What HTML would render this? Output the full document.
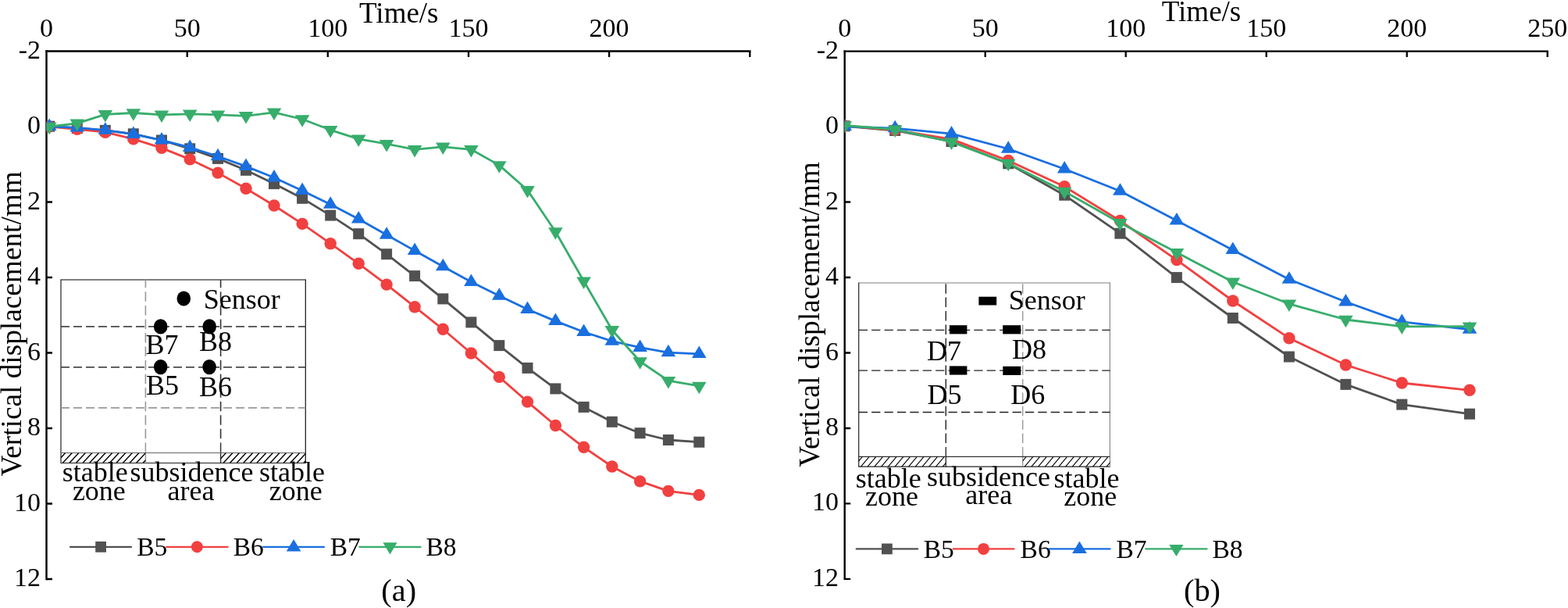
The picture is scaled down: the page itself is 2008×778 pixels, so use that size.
<!DOCTYPE html>
<html><head><meta charset="utf-8"><title>Vertical displacement vs time</title>
<style>html,body{margin:0;padding:0;background:#fff;width:2008px;height:778px;overflow:hidden}svg{display:block}</style>
</head><body>
<svg width="2008" height="778" viewBox="0 0 2008 778" font-family="&apos;Liberation Serif&apos;, &apos;Times New Roman&apos;, serif">
<rect width="2008" height="778" fill="#fff"/>
<defs><clipPath id="clipL"><rect x="59.5" y="0" width="920" height="760"/></clipPath><clipPath id="clipR"><rect x="1081.7" y="0" width="920" height="760"/></clipPath><clipPath id="hL1"><rect x="78" y="579.5" width="108.4" height="13"/></clipPath><clipPath id="hL2"><rect x="282.6" y="579.5" width="108.7" height="13"/></clipPath><clipPath id="hR1"><rect x="1099.7" y="584.4" width="111.6" height="12.8"/></clipPath><clipPath id="hR2"><rect x="1309.7" y="584.4" width="111.7" height="12.8"/></clipPath></defs>
<path d="M59.5,65.5 H960.3" stroke="#000" stroke-width="2.4" fill="none" stroke-linecap="square"/>
<path d="M59.5,65.5 V741" stroke="#000" stroke-width="2.4" fill="none" stroke-linecap="square"/>
<path d="M239.7,65.5 V73 M419.8,65.5 V73 M600,65.5 V73 M780.1,65.5 V73 M960.3,65.5 V73 M59.5,162 H67 M59.5,258.5 H67 M59.5,355 H67 M59.5,451.5 H67 M59.5,548 H67 M59.5,644.5 H67 M59.5,741 H67 " stroke="#000" stroke-width="2.3" fill="none"/>
<text x="59.5" y="47" text-anchor="middle" font-size="34">0</text>
<text x="239.7" y="47" text-anchor="middle" font-size="34">50</text>
<text x="419.8" y="47" text-anchor="middle" font-size="34">100</text>
<text x="600" y="47" text-anchor="middle" font-size="34">150</text>
<text x="780.1" y="47" text-anchor="middle" font-size="34">200</text>
<text x="52" y="74.5" text-anchor="end" font-size="34">-2</text>
<text x="52" y="171" text-anchor="end" font-size="34">0</text>
<text x="52" y="267.5" text-anchor="end" font-size="34">2</text>
<text x="52" y="364" text-anchor="end" font-size="34">4</text>
<text x="52" y="460.5" text-anchor="end" font-size="34">6</text>
<text x="52" y="557" text-anchor="end" font-size="34">8</text>
<text x="52" y="653.5" text-anchor="end" font-size="34">10</text>
<text x="52" y="750" text-anchor="end" font-size="34">12</text>
<text x="510.8" y="29" text-anchor="middle" font-size="37">Time/s</text>
<text transform="translate(27,414.4) rotate(-90)" text-anchor="middle" font-size="37.3">Vertical displacement/mm</text>
<text x="510.7" y="769" text-anchor="middle" font-size="40.3">(a)</text>
<path d="M78,358 H391.3" stroke="#555" stroke-width="1.3"/>
<path d="M78,592.5 H391.3" stroke="#555" stroke-width="1.3"/>
<path d="M78,357.4 V593.1" stroke="#333" stroke-width="1.3"/>
<path d="M391.3,357.4 V593.1" stroke="#222" stroke-width="1.3"/>
<path d="M78,417.9 H391.3 M78,469.8 H391.3" stroke="#4a4a4a" stroke-width="1.7" stroke-dasharray="11 5" fill="none"/>
<path d="M78,521.8 H391.3" stroke="#999" stroke-width="1.7" stroke-dasharray="11 5" fill="none"/>
<path d="M186.4,561.35 V358" stroke="#999" stroke-width="1.6" stroke-dasharray="12.5 5.05" fill="none"/>
<path d="M282.6,561.35 V358" stroke="#333" stroke-width="1.6" stroke-dasharray="12.5 5.05" fill="none"/>
<path d="M186.4,566.4 V592.5" stroke="#999" stroke-width="1.5"/>
<path d="M282.6,566.4 V592.5" stroke="#333" stroke-width="1.5"/>
<path d="M78,579.5 H391.3" stroke="#666" stroke-width="1.2"/>
<path d="M71.6,592.5 L83.7,579.5 M80.2,592.5 L92.3,579.5 M88.8,592.5 L100.9,579.5 M97.3,592.5 L109.4,579.5 M105.9,592.5 L118,579.5 M114.5,592.5 L126.6,579.5 M123,592.5 L135.1,579.5 M131.6,592.5 L143.7,579.5 M140.2,592.5 L152.3,579.5 M148.8,592.5 L160.8,579.5 M157.3,592.5 L169.4,579.5 M165.9,592.5 L178,579.5 M174.5,592.5 L186.6,579.5 M183,592.5 L195.1,579.5 " stroke="#000" stroke-width="1.4" clip-path="url(#hL1)"/>
<path d="M277.3,592.5 L289.4,579.5 M285.9,592.5 L298,579.5 M294.4,592.5 L306.5,579.5 M303,592.5 L315.1,579.5 M311.6,592.5 L323.7,579.5 M320.2,592.5 L332.2,579.5 M328.7,592.5 L340.8,579.5 M337.3,592.5 L349.4,579.5 M345.9,592.5 L358,579.5 M354.4,592.5 L366.5,579.5 M363,592.5 L375.1,579.5 M371.6,592.5 L383.7,579.5 M380.1,592.5 L392.2,579.5 M388.7,592.5 L400.8,579.5 " stroke="#000" stroke-width="1.4" clip-path="url(#hL2)"/>
<ellipse cx="235.3" cy="382" rx="8.8" ry="9.6" fill="#000"/>
<ellipse cx="205.7" cy="417.9" rx="8.8" ry="9.6" fill="#000"/>
<ellipse cx="268.2" cy="417.9" rx="8.8" ry="9.6" fill="#000"/>
<ellipse cx="205.7" cy="469.6" rx="8.8" ry="9.6" fill="#000"/>
<ellipse cx="268.1" cy="469.6" rx="8.8" ry="9.6" fill="#000"/>
<text x="260.7" y="395.2" font-size="36">Sensor</text>
<text x="186.6" y="452.6" font-size="36">B7</text>
<text x="254.9" y="449.2" font-size="36">B8</text>
<text x="186.9" y="505.3" font-size="36">B5</text>
<text x="254.9" y="506.6" font-size="36">B6</text>
<text x="79.8" y="616.4" font-size="36">stable</text>
<text x="92.9" y="640" font-size="36">zone</text>
<text x="166.5" y="616.4" font-size="36">subsidence</text>
<text x="214.6" y="640" font-size="36">area</text>
<text x="332.1" y="616.4" font-size="36">stable</text>
<text x="344.7" y="640" font-size="36">zone</text>
<g clip-path="url(#clipL)">
<polyline fill="none" stroke="#515151" stroke-width="2.8" stroke-linejoin="round" stroke-linecap="round" points="63.2,161.7 98.8,164 134.8,166.9 170.8,171.3 207,179.5 243.2,190.3 279,202.9 315,217.8 351,235.1 387.1,253.8 423.2,275.6 459.2,299.2 495.1,325.2 531.1,353.1 567.3,382.4 603.4,412.4 639.3,442.1 675.5,470.9 711.4,497.4 747.6,520.9 783.8,539.8 819.6,554.2 855.9,563 895.3,565.7"/>
<rect x="56.2" y="154.7" width="14" height="14" fill="#515151"/>
<rect x="91.8" y="157" width="14" height="14" fill="#515151"/>
<rect x="127.8" y="159.9" width="14" height="14" fill="#515151"/>
<rect x="163.8" y="164.3" width="14" height="14" fill="#515151"/>
<rect x="200" y="172.5" width="14" height="14" fill="#515151"/>
<rect x="236.2" y="183.3" width="14" height="14" fill="#515151"/>
<rect x="272" y="195.9" width="14" height="14" fill="#515151"/>
<rect x="308" y="210.8" width="14" height="14" fill="#515151"/>
<rect x="344" y="228.1" width="14" height="14" fill="#515151"/>
<rect x="380.1" y="246.8" width="14" height="14" fill="#515151"/>
<rect x="416.2" y="268.6" width="14" height="14" fill="#515151"/>
<rect x="452.2" y="292.2" width="14" height="14" fill="#515151"/>
<rect x="488.1" y="318.2" width="14" height="14" fill="#515151"/>
<rect x="524.1" y="346.1" width="14" height="14" fill="#515151"/>
<rect x="560.3" y="375.4" width="14" height="14" fill="#515151"/>
<rect x="596.4" y="405.4" width="14" height="14" fill="#515151"/>
<rect x="632.3" y="435.1" width="14" height="14" fill="#515151"/>
<rect x="668.5" y="463.9" width="14" height="14" fill="#515151"/>
<rect x="704.4" y="490.4" width="14" height="14" fill="#515151"/>
<rect x="740.6" y="513.9" width="14" height="14" fill="#515151"/>
<rect x="776.8" y="532.8" width="14" height="14" fill="#515151"/>
<rect x="812.6" y="547.2" width="14" height="14" fill="#515151"/>
<rect x="848.9" y="556" width="14" height="14" fill="#515151"/>
<rect x="888.3" y="558.7" width="14" height="14" fill="#515151"/>
<polyline fill="none" stroke="#F14040" stroke-width="2.8" stroke-linejoin="round" stroke-linecap="round" points="63.2,162 98.8,165.3 134.8,169.2 170.8,177.8 207,189.4 243.2,203.9 279,221.1 315,241.2 351,263 387.1,286.4 423.2,311.7 459.2,337.3 495.1,364.1 531.1,392.7 567.3,421.3 603.4,452 639.3,482.4 675.5,514.1 711.4,544.5 747.6,572.3 783.8,597 819.6,615.9 855.9,628.4 895.3,633.4"/>
<circle cx="63.2" cy="162" r="7.7" fill="#F14040"/>
<circle cx="98.8" cy="165.3" r="7.7" fill="#F14040"/>
<circle cx="134.8" cy="169.2" r="7.7" fill="#F14040"/>
<circle cx="170.8" cy="177.8" r="7.7" fill="#F14040"/>
<circle cx="207" cy="189.4" r="7.7" fill="#F14040"/>
<circle cx="243.2" cy="203.9" r="7.7" fill="#F14040"/>
<circle cx="279" cy="221.1" r="7.7" fill="#F14040"/>
<circle cx="315" cy="241.2" r="7.7" fill="#F14040"/>
<circle cx="351" cy="263" r="7.7" fill="#F14040"/>
<circle cx="387.1" cy="286.4" r="7.7" fill="#F14040"/>
<circle cx="423.2" cy="311.7" r="7.7" fill="#F14040"/>
<circle cx="459.2" cy="337.3" r="7.7" fill="#F14040"/>
<circle cx="495.1" cy="364.1" r="7.7" fill="#F14040"/>
<circle cx="531.1" cy="392.7" r="7.7" fill="#F14040"/>
<circle cx="567.3" cy="421.3" r="7.7" fill="#F14040"/>
<circle cx="603.4" cy="452" r="7.7" fill="#F14040"/>
<circle cx="639.3" cy="482.4" r="7.7" fill="#F14040"/>
<circle cx="675.5" cy="514.1" r="7.7" fill="#F14040"/>
<circle cx="711.4" cy="544.5" r="7.7" fill="#F14040"/>
<circle cx="747.6" cy="572.3" r="7.7" fill="#F14040"/>
<circle cx="783.8" cy="597" r="7.7" fill="#F14040"/>
<circle cx="819.6" cy="615.9" r="7.7" fill="#F14040"/>
<circle cx="855.9" cy="628.4" r="7.7" fill="#F14040"/>
<circle cx="895.3" cy="633.4" r="7.7" fill="#F14040"/>
<polyline fill="none" stroke="#1A6FDF" stroke-width="2.8" stroke-linejoin="round" stroke-linecap="round" points="63.2,161.8 98.8,163.3 134.8,166.6 170.8,171.7 207,179.4 243.2,188.7 279,200 315,212.9 351,227.2 387.1,243.9 423.2,261.6 459.2,280.3 495.1,300.5 531.1,320.7 567.3,341 603.4,360.7 639.3,378.6 675.5,395.8 711.4,410.9 747.6,424.8 783.8,436.5 819.6,444.7 855.9,451.1 895.3,452.9"/>
<polygon points="63.2,151.5 53.9,167 72.5,167" fill="#1A6FDF"/>
<polygon points="98.8,153 89.5,168.5 108.1,168.5" fill="#1A6FDF"/>
<polygon points="134.8,156.3 125.5,171.8 144.1,171.8" fill="#1A6FDF"/>
<polygon points="170.8,161.4 161.5,176.9 180.1,176.9" fill="#1A6FDF"/>
<polygon points="207,169.1 197.7,184.6 216.3,184.6" fill="#1A6FDF"/>
<polygon points="243.2,178.4 233.9,193.9 252.5,193.9" fill="#1A6FDF"/>
<polygon points="279,189.7 269.7,205.2 288.3,205.2" fill="#1A6FDF"/>
<polygon points="315,202.6 305.7,218.1 324.3,218.1" fill="#1A6FDF"/>
<polygon points="351,216.9 341.7,232.4 360.3,232.4" fill="#1A6FDF"/>
<polygon points="387.1,233.6 377.8,249.1 396.4,249.1" fill="#1A6FDF"/>
<polygon points="423.2,251.3 413.9,266.8 432.5,266.8" fill="#1A6FDF"/>
<polygon points="459.2,270 449.9,285.5 468.5,285.5" fill="#1A6FDF"/>
<polygon points="495.1,290.2 485.8,305.7 504.4,305.7" fill="#1A6FDF"/>
<polygon points="531.1,310.4 521.8,325.9 540.4,325.9" fill="#1A6FDF"/>
<polygon points="567.3,330.7 558,346.2 576.6,346.2" fill="#1A6FDF"/>
<polygon points="603.4,350.4 594.1,365.9 612.7,365.9" fill="#1A6FDF"/>
<polygon points="639.3,368.3 630,383.8 648.6,383.8" fill="#1A6FDF"/>
<polygon points="675.5,385.5 666.2,401 684.8,401" fill="#1A6FDF"/>
<polygon points="711.4,400.6 702.1,416.1 720.7,416.1" fill="#1A6FDF"/>
<polygon points="747.6,414.5 738.3,430 756.9,430" fill="#1A6FDF"/>
<polygon points="783.8,426.2 774.5,441.7 793.1,441.7" fill="#1A6FDF"/>
<polygon points="819.6,434.4 810.3,449.9 828.9,449.9" fill="#1A6FDF"/>
<polygon points="855.9,440.8 846.6,456.3 865.2,456.3" fill="#1A6FDF"/>
<polygon points="895.3,442.6 886,458.1 904.6,458.1" fill="#1A6FDF"/>
<polyline fill="none" stroke="#37AD6B" stroke-width="2.8" stroke-linejoin="round" stroke-linecap="round" points="63.2,162 98.8,157.8 134.8,146.3 170.8,144.5 207,146.8 243.2,145.8 279,146.8 315,148.3 351,143.8 387.1,152.5 423.2,166.3 459.2,177.8 495.1,184.1 531.1,191.3 567.3,187.8 603.4,191.3 639.3,211.4 675.5,243.2 711.4,296.5 747.6,359.7 783.8,422.2 819.6,462.5 855.9,487.1 895.3,493.9"/>
<polygon points="53.9,156.8 72.5,156.8 63.2,172.3" fill="#37AD6B"/>
<polygon points="89.5,152.6 108.1,152.6 98.8,168.1" fill="#37AD6B"/>
<polygon points="125.5,141.1 144.1,141.1 134.8,156.6" fill="#37AD6B"/>
<polygon points="161.5,139.3 180.1,139.3 170.8,154.8" fill="#37AD6B"/>
<polygon points="197.7,141.6 216.3,141.6 207,157.1" fill="#37AD6B"/>
<polygon points="233.9,140.6 252.5,140.6 243.2,156.1" fill="#37AD6B"/>
<polygon points="269.7,141.6 288.3,141.6 279,157.1" fill="#37AD6B"/>
<polygon points="305.7,143.1 324.3,143.1 315,158.6" fill="#37AD6B"/>
<polygon points="341.7,138.6 360.3,138.6 351,154.1" fill="#37AD6B"/>
<polygon points="377.8,147.3 396.4,147.3 387.1,162.8" fill="#37AD6B"/>
<polygon points="413.9,161.1 432.5,161.1 423.2,176.6" fill="#37AD6B"/>
<polygon points="449.9,172.6 468.5,172.6 459.2,188.1" fill="#37AD6B"/>
<polygon points="485.8,178.9 504.4,178.9 495.1,194.4" fill="#37AD6B"/>
<polygon points="521.8,186.1 540.4,186.1 531.1,201.6" fill="#37AD6B"/>
<polygon points="558,182.6 576.6,182.6 567.3,198.1" fill="#37AD6B"/>
<polygon points="594.1,186.1 612.7,186.1 603.4,201.6" fill="#37AD6B"/>
<polygon points="630,206.2 648.6,206.2 639.3,221.7" fill="#37AD6B"/>
<polygon points="666.2,238 684.8,238 675.5,253.5" fill="#37AD6B"/>
<polygon points="702.1,291.3 720.7,291.3 711.4,306.8" fill="#37AD6B"/>
<polygon points="738.3,354.5 756.9,354.5 747.6,370" fill="#37AD6B"/>
<polygon points="774.5,417 793.1,417 783.8,432.5" fill="#37AD6B"/>
<polygon points="810.3,457.3 828.9,457.3 819.6,472.8" fill="#37AD6B"/>
<polygon points="846.6,481.9 865.2,481.9 855.9,497.4" fill="#37AD6B"/>
<polygon points="886,488.7 904.6,488.7 895.3,504.2" fill="#37AD6B"/>
</g>
<path d="M90,699.8 H168.1" stroke="#515151" stroke-width="2.2" stroke-linecap="round"/>
<rect x="122.2" y="692.9" width="13.8" height="13.8" fill="#515151"/>
<text x="175.2" y="711.1" font-size="33.5">B5</text>
<path d="M213.2,699.8 H291.7" stroke="#F14040" stroke-width="2.2" stroke-linecap="round"/>
<circle cx="252.4" cy="699.8" r="7.5" fill="#F14040"/>
<text x="298.7" y="711.1" font-size="33.5">B6</text>
<path d="M337.1,699.8 H415.1" stroke="#1A6FDF" stroke-width="2.2" stroke-linecap="round"/>
<polygon points="376.1,689.9 366.8,705.5 385.4,705.5" fill="#1A6FDF"/>
<text x="422.7" y="711.1" font-size="33.5">B7</text>
<path d="M460.3,699.8 H538.6" stroke="#37AD6B" stroke-width="2.2" stroke-linecap="round"/>
<polygon points="490.4,694.3 508.6,694.3 499.5,709.4" fill="#37AD6B"/>
<text x="545.4" y="711.1" font-size="33.5">B8</text>
<path d="M1081.7,65.6 H1981.7" stroke="#000" stroke-width="2.4" fill="none" stroke-linecap="square"/>
<path d="M1081.7,65.6 V740.9" stroke="#000" stroke-width="2.4" fill="none" stroke-linecap="square"/>
<path d="M1261.7,65.6 V73.1 M1441.7,65.6 V73.1 M1621.7,65.6 V73.1 M1801.7,65.6 V73.1 M1981.7,65.6 V73.1 M1081.7,162.1 H1089.2 M1081.7,258.5 H1089.2 M1081.7,355 H1089.2 M1081.7,451.5 H1089.2 M1081.7,548 H1089.2 M1081.7,644.4 H1089.2 M1081.7,740.9 H1089.2 " stroke="#000" stroke-width="2.3" fill="none"/>
<text x="1081.7" y="47" text-anchor="middle" font-size="34">0</text>
<text x="1261.7" y="47" text-anchor="middle" font-size="34">50</text>
<text x="1441.7" y="47" text-anchor="middle" font-size="34">100</text>
<text x="1621.7" y="47" text-anchor="middle" font-size="34">150</text>
<text x="1801.7" y="47" text-anchor="middle" font-size="34">200</text>
<text x="1981.7" y="47" text-anchor="middle" font-size="34">250</text>
<text x="1074.1" y="74.6" text-anchor="end" font-size="34">-2</text>
<text x="1074.1" y="171.1" text-anchor="end" font-size="34">0</text>
<text x="1074.1" y="267.5" text-anchor="end" font-size="34">2</text>
<text x="1074.1" y="364" text-anchor="end" font-size="34">4</text>
<text x="1074.1" y="460.5" text-anchor="end" font-size="34">6</text>
<text x="1074.1" y="557" text-anchor="end" font-size="34">8</text>
<text x="1074.1" y="653.4" text-anchor="end" font-size="34">10</text>
<text x="1074.1" y="749.9" text-anchor="end" font-size="34">12</text>
<text x="1538.5" y="27" text-anchor="middle" font-size="37">Time/s</text>
<text transform="translate(1049.4,402.5) rotate(-90)" text-anchor="middle" font-size="37.3">Vertical displacement/mm</text>
<text x="1539.5" y="769.2" text-anchor="middle" font-size="40.3">(b)</text>
<path d="M1099.7,362 H1421.4" stroke="#aaa" stroke-width="1.3"/>
<path d="M1099.7,597.2 H1421.4" stroke="#222" stroke-width="1.2"/>
<path d="M1099.7,361.4 V597.8" stroke="#333" stroke-width="1.3"/>
<path d="M1421.4,361.4 V597.8" stroke="#888" stroke-width="1.2"/>
<path d="M1099.7,422.3 H1421.4 M1099.7,474.1 H1421.4 M1099.7,527.5 H1421.4" stroke="#222" stroke-width="1.3" stroke-dasharray="11.3 5.1" fill="none"/>
<path d="M1211.3,567.1 V362" stroke="#222" stroke-width="1.4" stroke-dasharray="12.5 4.9" fill="none"/>
<path d="M1309.7,567.1 V362" stroke="#999" stroke-width="1.4" stroke-dasharray="12.5 4.9" fill="none"/>
<path d="M1211.3,572 V597.2" stroke="#222" stroke-width="1.3"/>
<path d="M1309.7,572 V597.2" stroke="#999" stroke-width="1.3"/>
<path d="M1099.7,584.4 H1421.4" stroke="#333" stroke-width="1.2"/>
<path d="M1093.7,597.2 L1104.4,584.4 M1102.4,597.2 L1113.2,584.4 M1111.1,597.2 L1121.9,584.4 M1119.9,597.2 L1130.6,584.4 M1128.6,597.2 L1139.4,584.4 M1137.4,597.2 L1148.1,584.4 M1146.1,597.2 L1156.9,584.4 M1154.8,597.2 L1165.6,584.4 M1163.6,597.2 L1174.3,584.4 M1172.3,597.2 L1183.1,584.4 M1181.1,597.2 L1191.8,584.4 M1189.8,597.2 L1200.6,584.4 M1198.5,597.2 L1209.3,584.4 M1207.3,597.2 L1218,584.4 " stroke="#000" stroke-width="1.1" clip-path="url(#hR1)"/>
<path d="M1303.4,597.2 L1314.2,584.4 M1312.2,597.2 L1322.9,584.4 M1320.9,597.2 L1331.7,584.4 M1329.6,597.2 L1340.4,584.4 M1338.4,597.2 L1349.1,584.4 M1347.1,597.2 L1357.9,584.4 M1355.9,597.2 L1366.6,584.4 M1364.6,597.2 L1375.4,584.4 M1373.3,597.2 L1384.1,584.4 M1382.1,597.2 L1392.8,584.4 M1390.8,597.2 L1401.6,584.4 M1399.6,597.2 L1410.3,584.4 M1408.3,597.2 L1419.1,584.4 M1417,597.2 L1427.8,584.4 " stroke="#000" stroke-width="1.1" clip-path="url(#hR2)"/>
<rect x="1253.4" y="379.7" width="22.8" height="10.8" fill="#000"/>
<rect x="1215.9" y="416.2" width="22.5" height="11.2" fill="#000"/>
<rect x="1284.2" y="416.2" width="23" height="11.2" fill="#000"/>
<rect x="1215.9" y="468.4" width="22.5" height="11.2" fill="#000"/>
<rect x="1284.3" y="468.8" width="23" height="11.2" fill="#000"/>
<text x="1291.7" y="395.7" font-size="36">Sensor</text>
<text x="1187.1" y="460.6" font-size="36">D7</text>
<text x="1296.1" y="458.6" font-size="36">D8</text>
<text x="1187.4" y="517.2" font-size="36">D5</text>
<text x="1294.3" y="517.2" font-size="36">D6</text>
<text x="1095.7" y="623.5" font-size="36">stable</text>
<text x="1108.1" y="647.2" font-size="36">zone</text>
<text x="1187.1" y="621.6" font-size="36">subsidence</text>
<text x="1236.2" y="644.9" font-size="36">area</text>
<text x="1349.6" y="623.6" font-size="36">stable</text>
<text x="1362.3" y="647.1" font-size="36">zone</text>
<g clip-path="url(#clipR)">
<polyline fill="none" stroke="#515151" stroke-width="2.8" stroke-linejoin="round" stroke-linecap="round" points="1081.7,161.3 1146.2,167 1218.5,181 1291.2,209.3 1363.2,249.7 1434.4,298.7 1506.9,355.1 1578.8,407 1650.9,456.5 1723.4,491.9 1795.3,517.6 1882,529.7"/>
<rect x="1074.7" y="154.3" width="14" height="14" fill="#515151"/>
<rect x="1139.2" y="160" width="14" height="14" fill="#515151"/>
<rect x="1211.5" y="174" width="14" height="14" fill="#515151"/>
<rect x="1284.2" y="202.3" width="14" height="14" fill="#515151"/>
<rect x="1356.2" y="242.7" width="14" height="14" fill="#515151"/>
<rect x="1427.4" y="291.7" width="14" height="14" fill="#515151"/>
<rect x="1499.9" y="348.1" width="14" height="14" fill="#515151"/>
<rect x="1571.8" y="400" width="14" height="14" fill="#515151"/>
<rect x="1643.9" y="449.5" width="14" height="14" fill="#515151"/>
<rect x="1716.4" y="484.9" width="14" height="14" fill="#515151"/>
<rect x="1788.3" y="510.6" width="14" height="14" fill="#515151"/>
<rect x="1875" y="522.7" width="14" height="14" fill="#515151"/>
<polyline fill="none" stroke="#F14040" stroke-width="2.8" stroke-linejoin="round" stroke-linecap="round" points="1081.7,161 1146.2,166.3 1218.5,178.1 1291.2,205.5 1363.2,238.8 1434.4,282.5 1506.9,332.6 1578.8,385 1650.9,432.7 1723.4,467 1795.3,490 1882,499.3"/>
<circle cx="1081.7" cy="161" r="7.7" fill="#F14040"/>
<circle cx="1146.2" cy="166.3" r="7.7" fill="#F14040"/>
<circle cx="1218.5" cy="178.1" r="7.7" fill="#F14040"/>
<circle cx="1291.2" cy="205.5" r="7.7" fill="#F14040"/>
<circle cx="1363.2" cy="238.8" r="7.7" fill="#F14040"/>
<circle cx="1434.4" cy="282.5" r="7.7" fill="#F14040"/>
<circle cx="1506.9" cy="332.6" r="7.7" fill="#F14040"/>
<circle cx="1578.8" cy="385" r="7.7" fill="#F14040"/>
<circle cx="1650.9" cy="432.7" r="7.7" fill="#F14040"/>
<circle cx="1723.4" cy="467" r="7.7" fill="#F14040"/>
<circle cx="1795.3" cy="490" r="7.7" fill="#F14040"/>
<circle cx="1882" cy="499.3" r="7.7" fill="#F14040"/>
<polyline fill="none" stroke="#1A6FDF" stroke-width="2.8" stroke-linejoin="round" stroke-linecap="round" points="1081.7,161.8 1146.2,164.1 1218.5,171.2 1291.2,190.5 1363.2,216.3 1434.4,244.5 1506.9,282.2 1578.8,319.9 1650.9,357.5 1723.4,386.2 1795.3,411.9 1882,421.5"/>
<polygon points="1081.7,151.5 1072.4,167 1091,167" fill="#1A6FDF"/>
<polygon points="1146.2,153.8 1136.9,169.3 1155.5,169.3" fill="#1A6FDF"/>
<polygon points="1218.5,160.9 1209.2,176.4 1227.8,176.4" fill="#1A6FDF"/>
<polygon points="1291.2,180.2 1281.9,195.7 1300.5,195.7" fill="#1A6FDF"/>
<polygon points="1363.2,206 1353.9,221.5 1372.5,221.5" fill="#1A6FDF"/>
<polygon points="1434.4,234.2 1425.1,249.7 1443.7,249.7" fill="#1A6FDF"/>
<polygon points="1506.9,271.9 1497.6,287.4 1516.2,287.4" fill="#1A6FDF"/>
<polygon points="1578.8,309.6 1569.5,325.1 1588.1,325.1" fill="#1A6FDF"/>
<polygon points="1650.9,347.2 1641.6,362.7 1660.2,362.7" fill="#1A6FDF"/>
<polygon points="1723.4,375.9 1714.1,391.4 1732.7,391.4" fill="#1A6FDF"/>
<polygon points="1795.3,401.6 1786,417.1 1804.6,417.1" fill="#1A6FDF"/>
<polygon points="1882,411.2 1872.7,426.7 1891.3,426.7" fill="#1A6FDF"/>
<polyline fill="none" stroke="#37AD6B" stroke-width="2.8" stroke-linejoin="round" stroke-linecap="round" points="1081.7,160.5 1146.2,165.7 1218.5,181.7 1291.2,209 1363.2,245 1434.4,285.3 1506.9,323.1 1578.8,360.8 1650.9,388.8 1723.4,409 1795.3,417.8 1882,417.6"/>
<polygon points="1072.4,155.3 1091,155.3 1081.7,170.8" fill="#37AD6B"/>
<polygon points="1136.9,160.5 1155.5,160.5 1146.2,176" fill="#37AD6B"/>
<polygon points="1209.2,176.5 1227.8,176.5 1218.5,192" fill="#37AD6B"/>
<polygon points="1281.9,203.8 1300.5,203.8 1291.2,219.3" fill="#37AD6B"/>
<polygon points="1353.9,239.8 1372.5,239.8 1363.2,255.3" fill="#37AD6B"/>
<polygon points="1425.1,280.1 1443.7,280.1 1434.4,295.6" fill="#37AD6B"/>
<polygon points="1497.6,317.9 1516.2,317.9 1506.9,333.4" fill="#37AD6B"/>
<polygon points="1569.5,355.6 1588.1,355.6 1578.8,371.1" fill="#37AD6B"/>
<polygon points="1641.6,383.6 1660.2,383.6 1650.9,399.1" fill="#37AD6B"/>
<polygon points="1714.1,403.8 1732.7,403.8 1723.4,419.3" fill="#37AD6B"/>
<polygon points="1786,412.6 1804.6,412.6 1795.3,428.1" fill="#37AD6B"/>
<polygon points="1872.7,412.4 1891.3,412.4 1882,427.9" fill="#37AD6B"/>
</g>
<path d="M1096.7,702.4 H1175.2" stroke="#515151" stroke-width="2.2" stroke-linecap="round"/>
<rect x="1129" y="695.5" width="13.8" height="13.8" fill="#515151"/>
<text x="1182.7" y="713.7" font-size="33.5">B5</text>
<path d="M1220.6,702.4 H1298.5" stroke="#F14040" stroke-width="2.2" stroke-linecap="round"/>
<circle cx="1259.5" cy="702.4" r="7.5" fill="#F14040"/>
<text x="1306.6" y="713.7" font-size="33.5">B6</text>
<path d="M1343.3,702.4 H1421.6" stroke="#1A6FDF" stroke-width="2.2" stroke-linecap="round"/>
<polygon points="1382.4,692.5 1373.1,708.1 1391.7,708.1" fill="#1A6FDF"/>
<text x="1429.4" y="713.7" font-size="33.5">B7</text>
<path d="M1467.3,702.4 H1545.5" stroke="#37AD6B" stroke-width="2.2" stroke-linecap="round"/>
<polygon points="1497.3,696.9 1515.5,696.9 1506.4,712" fill="#37AD6B"/>
<text x="1552.5" y="713.7" font-size="33.5">B8</text>
</svg>
</body></html>
